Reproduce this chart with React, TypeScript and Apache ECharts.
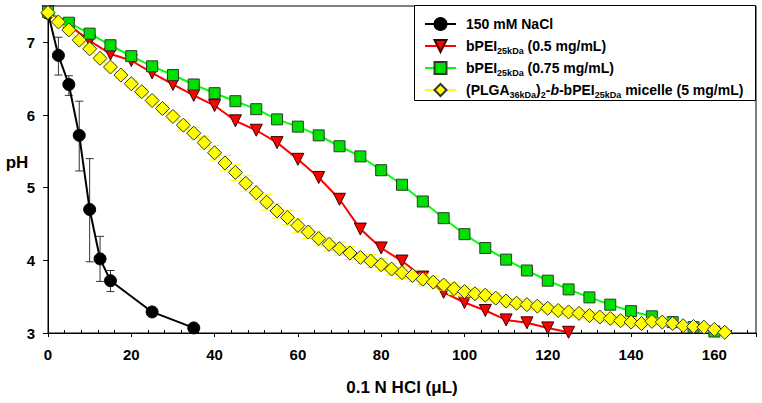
import React, { useEffect, useRef } from 'react';
import * as echarts from 'echarts';

// ---- data ----
const naclX = [0, 2.5, 5, 7.5, 10, 12.5, 15, 25, 35];
const naclPH = [7.4, 6.82, 6.42, 5.72, 4.7, 4.02, 3.72, 3.29, 3.07];
const naclLow = [null, 6.55, 6.27, 5.23, 3.98, 3.71, 3.57, null, null];
const naclHigh = [null, 7.07, 6.54, 6.19, 5.4, 4.33, 3.86, null, null];

const pei05X = [0, 5, 10, 15, 20, 25, 30, 35, 40, 45, 50, 55, 60, 65, 70, 75, 80, 85, 90, 95, 100, 105, 110, 115, 120, 125];
const pei05PH = [7.42, 7.24, 7.02, 6.84, 6.75, 6.58, 6.42, 6.27, 6.13, 5.92, 5.79, 5.62, 5.39, 5.14, 4.84, 4.43, 4.17, 3.99, 3.77, 3.56, 3.42, 3.31, 3.18, 3.14, 3.07, 3.01];

const pei075X = [0, 5, 10, 15, 20, 25, 30, 35, 40, 45, 50, 55, 60, 65, 70, 75, 80, 85, 90, 95, 100, 105, 110, 115, 120, 125, 130, 135, 140, 145, 150, 155, 160];
const pei075PH = [7.42, 7.27, 7.12, 6.96, 6.81, 6.67, 6.55, 6.42, 6.3, 6.19, 6.08, 5.94, 5.84, 5.72, 5.57, 5.43, 5.24, 5.04, 4.81, 4.58, 4.36, 4.17, 4.01, 3.86, 3.72, 3.6, 3.49, 3.39, 3.3, 3.23, 3.15, 3.08, 3.02];

const micelleX = [0, 2.5, 5, 7.5, 10, 12.5, 15, 17.5, 20, 22.5, 25, 27.5, 30, 32.5, 35, 37.5, 40, 42.5, 45, 47.5, 50, 52.5, 55, 57.5, 60, 62.5, 65, 67.5, 70, 72.5, 75, 77.5, 80, 82.5, 85, 87.5, 90, 92.5, 95, 97.5, 100, 102.5, 105, 107.5, 110, 112.5, 115, 117.5, 120, 122.5, 125, 127.5, 130, 132.5, 135, 137.5, 140, 142.5, 145, 147.5, 150, 152.5, 155, 157.5, 160, 162.5];
const micellePH = [7.41, 7.28, 7.17, 7.03, 6.91, 6.78, 6.66, 6.55, 6.43, 6.32, 6.2, 6.09, 5.98, 5.86, 5.75, 5.62, 5.48, 5.34, 5.21, 5.06, 4.93, 4.8, 4.68, 4.59, 4.48, 4.39, 4.3, 4.22, 4.16, 4.1, 4.04, 3.99, 3.94, 3.88, 3.83, 3.79, 3.74, 3.7, 3.66, 3.61, 3.57, 3.54, 3.52, 3.48, 3.44, 3.41, 3.39, 3.37, 3.34, 3.31, 3.29, 3.27, 3.24, 3.22, 3.2, 3.17, 3.15, 3.13, 3.16, 3.15, 3.13, 3.1, 3.09, 3.08, 3.05, 3.01];
const micelleSd = [0.02, 0.02, 0.02, 0.03, 0.03, 0.03, 0.03, 0.04, 0.04, 0.04, 0.05, 0.05, 0.06, 0.07, 0.08, 0.09, 0.1, 0.1, 0.11, 0.11, 0.1, 0.11, 0.1, 0.1, 0.1, 0.09, 0.1, 0.09, 0.09, 0.09, 0.08, 0.09, 0.08, 0.08, 0.08, 0.08, 0.07, 0.08, 0.07, 0.08, 0.07, 0.07, 0.07, 0.07, 0.07, 0.06, 0.07, 0.06, 0.06, 0.06, 0.06, 0.06, 0.06, 0.06, 0.05, 0.05, 0.05, 0.05, 0.04, 0.04, 0.03, 0.03, 0.03, 0.02, 0.02, 0.02];

const seriesNames = [
  '150 mM NaCl',
  'bPEI25kDa (0.5 mg/mL)',
  'bPEI25kDa (0.75 mg/mL)',
  '(PLGA36kDa)2-b-bPEI25kDa micelle (5 mg/mL)',
];
const legendRich: Record<string, string> = {
  '150 mM NaCl': '150 mM NaCl',
  'bPEI25kDa (0.5 mg/mL)': 'bPEI{sub|25kDa} (0.5 mg/mL)',
  'bPEI25kDa (0.75 mg/mL)': 'bPEI{sub|25kDa} (0.75 mg/mL)',
  '(PLGA36kDa)2-b-bPEI25kDa micelle (5 mg/mL)': '(PLGA{sub|36kDa}){sub|2}-{it|b}-bPEI{sub|25kDa} micelle (5 mg/mL)',
};
const xTitle = '0.1 N HCl (\u03BCL)';
const yTitle = 'pH';

const FONT = '"Liberation Sans", Arial, Helvetica, sans-serif';

function zip(xs: number[], ys: number[]) {
  return xs.map((x, i) => [x, ys[i]]);
}

function errRenderer(color: string, capHalf: number) {
  return (params: any, api: any) => {
    const x = api.value(0);
    const lo = api.value(1);
    const hi = api.value(2);
    const a = api.coord([x, lo]);
    const b = api.coord([x, hi]);
    const style = { stroke: color, lineWidth: 1 };
    return {
      type: 'group',
      children: [
        { type: 'line', shape: { x1: a[0], y1: a[1], x2: b[0], y2: b[1] }, style },
        { type: 'line', shape: { x1: a[0] - capHalf, y1: a[1], x2: a[0] + capHalf, y2: a[1] }, style },
        { type: 'line', shape: { x1: b[0] - capHalf, y1: b[1], x2: b[0] + capHalf, y2: b[1] }, style },
      ],
    };
  };
}

export default function App() {
  const ref = useRef<HTMLDivElement>(null);
  useEffect(() => {
    document.body.style.margin = '0';
    const chart = echarts.init(ref.current!, undefined, { renderer: 'svg' });

    const naclErr = naclX
      .map((x, i) => [x, naclLow[i], naclHigh[i]])
      .filter((d) => d[1] != null);
    const micelleErr = micelleX.map((x, i) => [x, micellePH[i] - micelleSd[i], micellePH[i] + micelleSd[i]]);

    const option: any = {
      animation: false,
      backgroundColor: '#fff',
      grid: {
        left: 48,
        right: 6,
        top: 6,
        bottom: 70,
        show: true,
        borderColor: '#000',
        borderWidth: 1,
        backgroundColor: 'transparent',
      },
      xAxis: {
        type: 'value',
        min: 0,
        max: 170,
        interval: 20,
        name: xTitle,
        nameLocation: 'middle',
        nameGap: 46,
        nameTextStyle: { fontFamily: FONT, fontWeight: 'bold', fontSize: 17, color: '#000' },
        axisLine: { show: true, onZero: false, lineStyle: { color: '#000', width: 1 } },
        axisTick: { show: true, length: 4, lineStyle: { color: '#000' } },
        minorTick: { show: true, splitNumber: 5, length: -3, lineStyle: { color: '#000' } },
        splitLine: { show: false },
        axisLabel: {
          margin: 14,
          fontFamily: FONT,
          fontWeight: 'bold',
          fontSize: 15,
          color: '#000',
          showMaxLabel: false,
          formatter: (v: number) => (v % 20 === 0 ? String(v) : ''),
        },
      },
      yAxis: {
        type: 'value',
        min: 3,
        max: 7.5,
        interval: 1,
        axisLine: { show: true, onZero: false, lineStyle: { color: '#000', width: 1 } },
        axisTick: { show: true, length: 5, lineStyle: { color: '#000' } },
        splitLine: { show: false },
        axisLabel: {
          margin: 13,
          fontFamily: FONT,
          fontWeight: 'bold',
          fontSize: 15,
          color: '#000',
          showMaxLabel: false,
          formatter: (v: number) => (Number.isInteger(v) ? String(v) : ''),
        },
      },
      legend: {
        data: seriesNames,
        orient: 'vertical',
        left: 424,
        top: 15,
        padding: 0,
        itemWidth: 31,
        itemHeight: 15,
        itemGap: 4,
        selectedMode: false,
        z: 10,
        formatter: (name: string) => legendRich[name] || name,
        textStyle: {
          fontFamily: FONT,
          fontWeight: 'bold',
          fontSize: 14,
          lineHeight: 18,
          color: '#000',
          padding: [0, 0, 0, 5],
          rich: {
            sub: { fontFamily: FONT, fontWeight: 'bold', fontSize: 9, lineHeight: 8, verticalAlign: 'bottom', color: '#000' },
            it: { fontFamily: FONT, fontWeight: 'bold', fontStyle: 'italic', fontSize: 14, lineHeight: 18, color: '#000' },
          },
        },
      },
      graphic: [
        {
          type: 'rect',
          z: 5,
          shape: { x: 414.5, y: 5.5, width: 341, height: 95 },
          style: { fill: '#fff', stroke: '#000', lineWidth: 1 },
        },
        {
          type: 'text',
          x: 17,
          y: 162,
          style: {
            text: yTitle,
            fontFamily: FONT,
            fontWeight: 'bold',
            fontSize: 17,
            fill: '#000',
            align: 'center',
            verticalAlign: 'middle',
          },
        },
      ],
      series: [
        {
          type: 'custom',
          name: 'naclErr',
          renderItem: errRenderer('#333', 4),
          encode: { x: 0, y: [1, 2] },
          data: naclErr,
          z: 1,
        },
        {
          type: 'line',
          name: seriesNames[0],
          data: zip(naclX, naclPH),
          symbol: 'circle',
          symbolSize: 12,
          lineStyle: { color: '#000', width: 2 },
          itemStyle: { color: '#000', borderColor: '#000', borderWidth: 1 },
          z: 2,
        },
        {
          type: 'line',
          name: seriesNames[1],
          data: zip(pei05X, pei05PH),
          symbol: 'triangle',
          symbolRotate: 180,
          symbolSize: 12,
          lineStyle: { color: '#ff0000', width: 2 },
          itemStyle: { color: '#ff0000', borderColor: '#3a0000', borderWidth: 1 },
          z: 3,
        },
        {
          type: 'line',
          name: seriesNames[2],
          data: zip(pei075X, pei075PH),
          symbol: 'rect',
          symbolSize: 11,
          lineStyle: { color: '#00ff00', width: 2 },
          itemStyle: { color: '#00e000', borderColor: '#2a3a2a', borderWidth: 1 },
          z: 4,
        },
        {
          type: 'custom',
          name: 'micelleErr',
          renderItem: errRenderer('#ffff00', 6),
          encode: { x: 0, y: [1, 2] },
          data: micelleErr,
          z: 5,
        },
        {
          type: 'line',
          name: seriesNames[3],
          data: zip(micelleX, micellePH),
          symbol: 'diamond',
          symbolSize: 14,
          lineStyle: { color: '#ffff00', width: 1.5 },
          itemStyle: { color: '#ffff00', borderColor: '#333', borderWidth: 1 },
          z: 6,
        },
      ],
    };
    chart.setOption(option);
    return () => chart.dispose();
  }, []);
  return <div ref={ref} style={{ width: 762, height: 403 }} />;
}
